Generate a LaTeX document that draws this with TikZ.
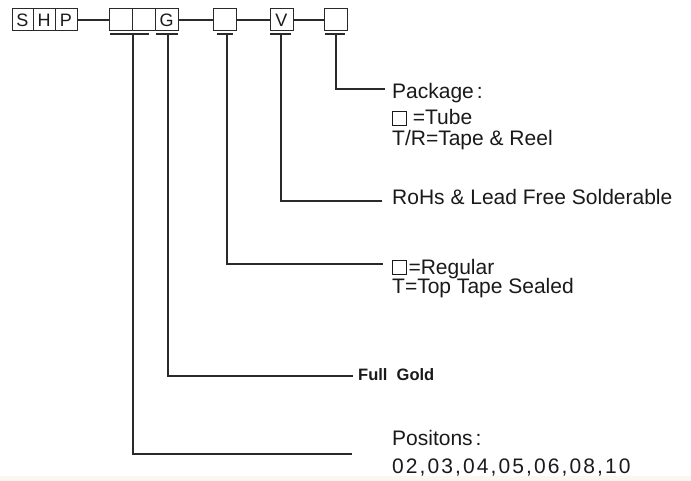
\documentclass[tikz,border=0pt]{standalone}
\usepackage{fontspec}
\setmainfont{Liberation Sans}
\newcommand{\sqbx}{{\setlength{\fboxsep}{0pt}\setlength{\fboxrule}{0.9pt}\fbox{\rule{0pt}{13pt}\rule{13pt}{0pt}}}}
\definecolor{ink}{HTML}{1A1A1A}
\definecolor{wire}{HTML}{2A2A2A}
\begin{document}
\begin{tikzpicture}[x=1pt,y=-1pt,
  letter/.style={draw=wire,line width=1pt,minimum width=22pt,minimum height=22pt,inner sep=0pt,font=\fontsize{18}{20}\selectfont,text=ink},
  conn/.style={draw=wire,line width=1.1pt},
  lbl/.style={anchor=base west,inner sep=0pt,text=ink,font=\fontsize{21}{24}\selectfont},
  bold/.style={anchor=base west,inner sep=0pt,text=ink,font=\fontsize{16.5}{19}\selectfont\bfseries}]
\useasboundingbox (0,0) rectangle (691,481);
\fill[white] (0,0) rectangle (691,481);
\fill[color={rgb,255:red,250;green,246;blue,240}] (0,476) rectangle (691,481);
% top boxes
\node[letter,minimum width=21pt] (S) at (22.5,20) {S};
\node[letter] (H) at (44,20) {H};
\node[letter] (P) at (66,20) {P};
\node[letter,minimum width=23pt] (B1) at (120.5,20) {};
\node[letter,minimum width=23pt] (B2) at (143.5,20) {};
\node[letter,minimum width=23pt] (G) at (166.5,20) {G};
\node[letter,minimum width=23pt] (B4) at (225,20) {};
\node[letter,minimum width=23pt] (V) at (281.5,20) {V};
\node[letter,minimum width=23pt] (B6) at (335.5,20) {};
\draw[conn] (P.east) -- (B1.west);
\draw[conn] (G.east) -- (B4.west);
\draw[conn] (B4.east) -- (V.west);
\draw[conn] (V.east) -- (B6.west);
% T-bar coordinates
\coordinate (t1a) at (110,34); \coordinate (t1b) at (149,34); \coordinate (t1) at (133,34);
\coordinate (t2a) at (156,34); \coordinate (t2b) at (178,34); \coordinate (t2) at (168,34);
\coordinate (t3a) at (217,34); \coordinate (t3b) at (233,34); \coordinate (t3) at (227,34);
\coordinate (t4a) at (270,34); \coordinate (t4b) at (291,34); \coordinate (t4) at (281,34);
\coordinate (t5a) at (325,34); \coordinate (t5b) at (345,34); \coordinate (t5) at (336,34);
\foreach \i in {1,...,5} {\draw[conn] (t\i a) -- (t\i b);}
% end points
\coordinate (e5) at (385,89);
\coordinate (e4) at (382,201);
\coordinate (e3) at (383,264);
\coordinate (e2) at (353,376);
\coordinate (e1) at (352,454);
\draw[conn] (t5) |- (e5);
\draw[conn] (t4) |- (e4);
\draw[conn] (t3) |- (e3);
\draw[conn] (t2) |- (e2);
\draw[conn] (t1) |- (e1);
% labels
\node[lbl] (pk1) at (392,99) {Package\hspace{3pt}:};
\node[lbl] (pk2) at (392,125) {\sqbx\ =Tube};
\node[lbl] (pk3) at (392,146) {T/R=Tape \& Reel};
\node[lbl] (rohs) at (392,205) {RoHs \& Lead Free Solderable};
\node[lbl] (rg1) at (392,274) {\sqbx\hspace{1.5pt}=Regular};
\node[lbl] (rg2) at (392,294) {T=Top Tape Sealed};
\node[bold] (fg) at (358,380) {Full\ \ Gold};
\node[lbl] (ps1) at (392,445) {Positons\hspace{3pt}:};
\node[lbl] (ps2) at (392,473) {\addfontfeature{LetterSpace=10}02,03,04,05,06,08,10};
\end{tikzpicture}
\end{document}
